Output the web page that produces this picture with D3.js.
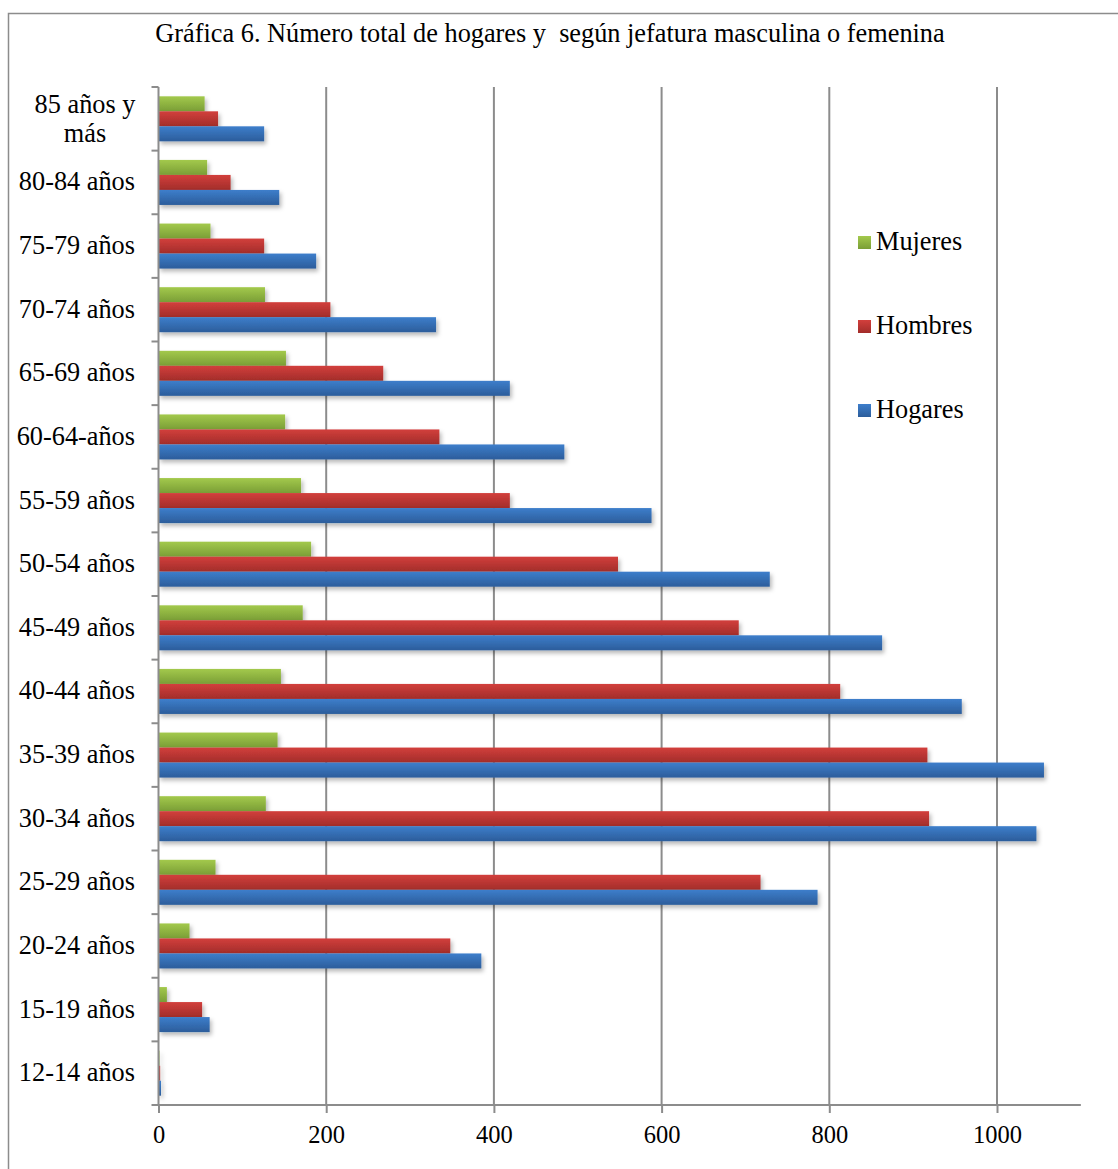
<!DOCTYPE html>
<html><head><meta charset="utf-8">
<script src="https://cdn.jsdelivr.net/npm/d3@7"></script>
<style>
html,body{margin:0;padding:0;background:#fff;}
text{font-family:"Liberation Serif","Times New Roman",serif;fill:#000;}
</style></head>
<body><svg id="c" width="1118" height="1169"></svg>
<script>
const categories = ["12-14 años","15-19 años","20-24 años","25-29 años","30-34 años","35-39 años","40-44 años","45-49 años","50-54 años","55-59 años","60-64-años","65-69 años","70-74 años","75-79 años","80-84 años","85 años y más"];
const hogares = [3, 61, 385, 786, 1047, 1056, 958, 863, 729, 588, 484, 419, 331, 188, 144, 126];
const hombres = [2, 52, 348, 718, 919, 917, 813, 692, 548, 419, 335, 268, 205, 126, 86, 71];
const mujeres = [1, 10, 37, 68, 128, 142, 146, 172, 182, 170, 151, 152, 127, 62, 58, 55];
const seriesNames = ["Mujeres","Hombres","Hogares"];
const xTicks = [0, 200, 400, 600, 800, 1000];
const title = "Gráfica 6. Número total de hogares y  según jefatura masculina o femenina";

const svg = d3.select("#c");
const defs = svg.append("defs");
const grads = {
  Mujeres: ["#a3c94c", "#7a9e36"],
  Hombres: ["#d23f3c", "#a22d2a"],
  Hogares: ["#3d7ecb", "#2c5d9b"]
};
Object.entries(grads).forEach(([k,[a,b]])=>{
  const g = defs.append("linearGradient").attr("id","g"+k).attr("x1",0).attr("y1",0).attr("x2",0).attr("y2",1);
  g.append("stop").attr("offset","0%").attr("stop-color",a);
  g.append("stop").attr("offset","100%").attr("stop-color",b);
});
const f = defs.append("filter").attr("id","sh").attr("x","-5%").attr("y","-30%").attr("width","120%").attr("height","190%");
f.append("feDropShadow").attr("dx",2).attr("dy",3).attr("stdDeviation",2.2).attr("flood-color","#000").attr("flood-opacity",0.28);

// frame
svg.append("path").attr("d","M8.5,1169 L8.5,13.5 L1118,13.5").attr("fill","none").attr("stroke","#8c8c8c").attr("stroke-width",1.5);

const FS = 26.3;
svg.append("text").attr("x",550).attr("y",42).attr("text-anchor","middle").attr("font-size",FS)
  .style("white-space","pre").attr("xml:space","preserve").text(title);

const x = d3.scaleLinear().domain([0,1100]).range([158.5, 158.5+1100*0.8385]);
const y = d3.scaleBand().domain(categories.slice().reverse()).range([87, 1105]).paddingInner(0).paddingOuter(0);
const y1 = d3.scaleBand().domain(seriesNames).range([0, y.bandwidth()]).paddingInner(0).paddingOuter(0.62);
const gray = "#8c8c8c";

// gridlines
svg.append("g").selectAll("line").data(xTicks.filter(d=>d>0)).join("line")
  .attr("x1",d=>x(d)).attr("x2",d=>x(d)).attr("y1",87).attr("y2",1105)
  .attr("stroke",gray).attr("stroke-width",2);

// bars
const data = {Mujeres: mujeres, Hombres: hombres, Hogares: hogares};
const gBars = svg.append("g");
seriesNames.forEach(s=>{
  gBars.append("g").attr("filter","url(#sh)").selectAll("rect").data(categories.map((c,i)=>({c, v:data[s][i]}))).join("rect")
    .attr("x", x(0)).attr("y", d=>y(d.c)+y1(s)).attr("width", d=>Math.max(1, x(d.v)-x(0))).attr("height", y1.bandwidth())
    .attr("fill","url(#g"+s+")");
});

// x axis
const xa = svg.append("g").attr("transform","translate(0,1105)").call(d3.axisBottom(x).tickValues(xTicks).tickSize(8).tickPadding(13).tickFormat(d3.format("d")));
xa.select(".domain").attr("stroke",gray).attr("stroke-width",2).attr("d",`M${x(0)},0H${x(1100)}`);
xa.selectAll(".tick line").attr("stroke",gray).attr("stroke-width",2);
xa.selectAll(".tick text").attr("font-size",24.5).attr("font-family","Liberation Serif").attr("fill","#000");

// y axis
const ya = svg.append("g").attr("transform",`translate(${x(0)},0)`);
ya.append("line").attr("x1",0).attr("x2",0).attr("y1",87).attr("y2",1105).attr("stroke",gray).attr("stroke-width",2);
const bounds = categories.map(c=>y(c)).concat([1105]);
ya.selectAll("line.t").data(bounds).join("line").attr("class","t")
  .attr("x1",-7).attr("x2",0).attr("y1",d=>d).attr("y2",d=>d).attr("stroke",gray).attr("stroke-width",2);

// category labels
categories.forEach(c=>{
  const cy = y(c) + y.bandwidth()/2;
  if (c === "85 años y más") {
    const t = svg.append("text").attr("font-size",FS).attr("text-anchor","middle");
    t.append("tspan").attr("x",85).attr("y",cy-6).text("85 años y");
    t.append("tspan").attr("x",85).attr("y",cy+23).text("más");
  } else {
    svg.append("text").attr("x",135).attr("y",cy+8).attr("text-anchor","end").attr("font-size",FS).text(c);
  }
});

// legend
const legendY = {Mujeres: 242, Hombres: 326, Hogares: 410};
seriesNames.forEach(s=>{
  svg.append("rect").attr("x",858).attr("y",legendY[s]-6).attr("width",13).attr("height",13).attr("fill","url(#g"+s+")");
  svg.append("text").attr("x",876).attr("y",legendY[s]+8).attr("font-size",FS).text(s);
});
</script></body></html>
